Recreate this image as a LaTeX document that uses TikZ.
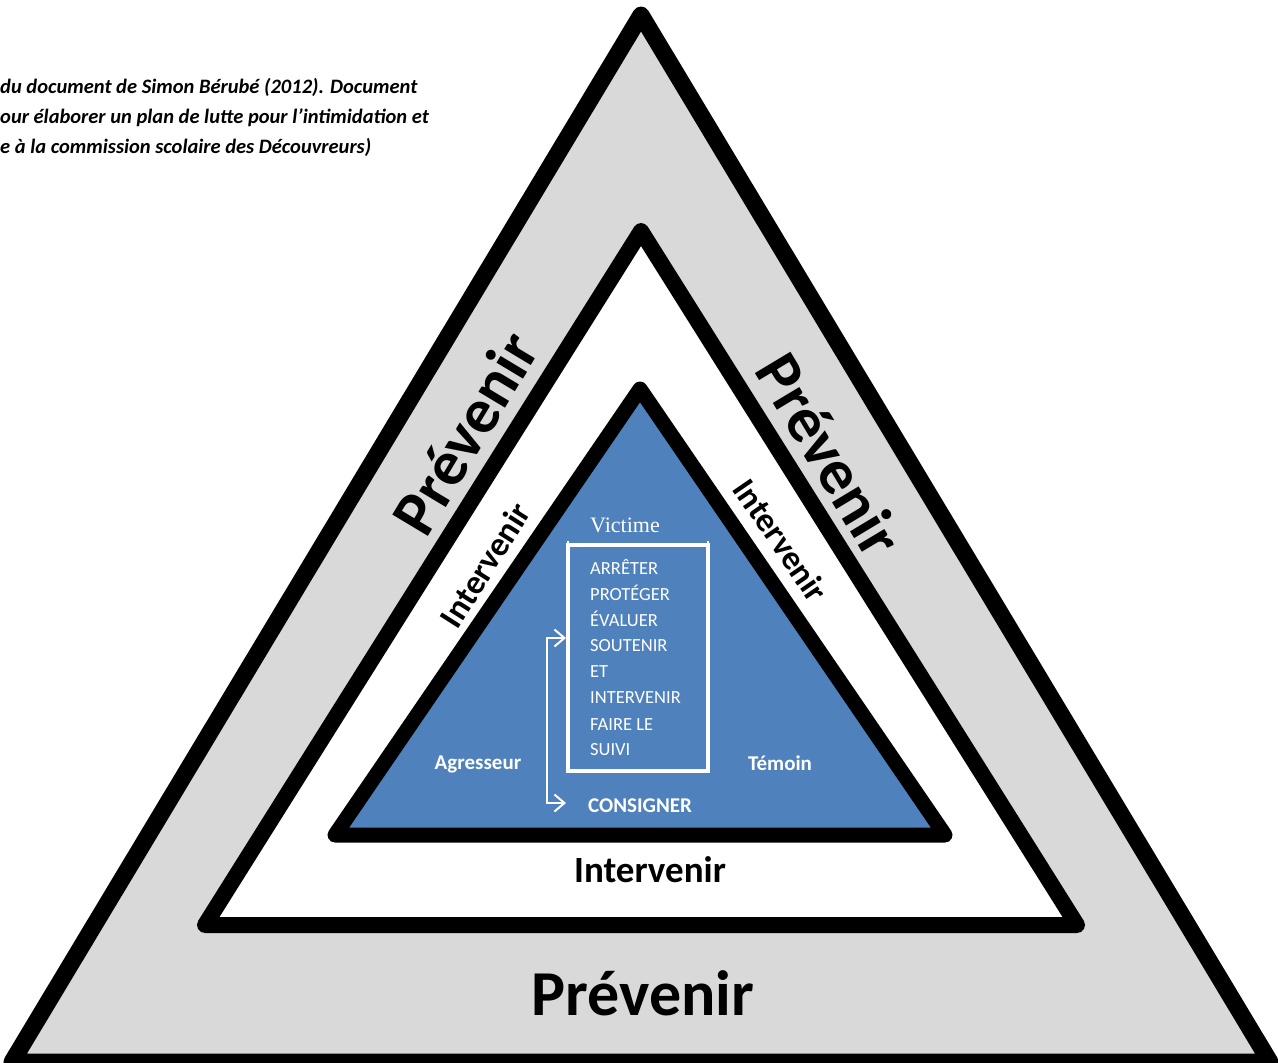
\documentclass[tikz,border=0pt]{standalone}
\usepackage{fontspec}
\setmainfont{Carlito}
\newfontfamily\victfont{Liberation Serif}
\usetikzlibrary{arrows.meta}
\definecolor{bandgray}{HTML}{D9D9D9}
\definecolor{coreblue}{HTML}{4F81BD}
\begin{document}
\begin{tikzpicture}[x=1pt,y=-1pt,
  tri/.style={draw=black,line join=round},
  bigword/.style={font=\fontsize{64}{64}\selectfont\bfseries,inner sep=0pt},
  midword/.style={font=\fontsize{37}{37}\selectfont\bfseries,inner sep=0pt},
  sideword/.style={font=\fontsize{34}{34}\selectfont\bfseries,inner sep=0pt},
  steptext/.style={text=white,anchor=west,font=\fontsize{18.5}{18.5}\selectfont,inner sep=0pt},
  rolelabel/.style={text=white,anchor=base,font=\fontsize{21}{21}\selectfont\bfseries,inner sep=0pt},
  notetext/.style={anchor=base west,font=\fontsize{20.5}{20.5}\selectfont\bfseries\itshape,inner sep=0pt}]
\useasboundingbox (0,0) rectangle (1278,1063);
\clip (0,0) rectangle (1278,1063);
\fill[white] (0,0) rectangle (1278,1063);
% triangles
\draw[tri,line width=17pt,fill=bandgray] (641,15) -- (12,1062) -- (1270,1062) -- cycle;
\draw[tri,line width=16pt,fill=white] (641,231) -- (205,925) -- (1077,925) -- cycle;
\draw[tri,line width=15pt,fill=coreblue] (640,389) -- (335,835) -- (945,835) -- cycle;
% note
\node[notetext] (n1) at (0,93) {du document de Simon Bérubé (2012). Document};
\node[notetext] (n2) at (0,123) {our élaborer un plan de lutte pour l’intimidation et};
\node[notetext] (n3) at (0,153) {e à la commission scolaire des Découvreurs)};
% Prévenir
\node[bigword,rotate=59] (pl) at (465,433) {Prévenir};
\node[bigword,rotate=-59] (pr) at (830,455) {Prévenir};
\node[bigword] (pb) at (643,993) {Prévenir};
% Intervenir
\node[sideword,rotate=57.5] (il) at (485,565) {Intervenir};
\node[sideword,rotate=-55.5] (ir) at (781,540) {Intervenir};
\node[midword] (ib) at (650,870) {Intervenir};
% core
\node[text=white,font=\victfont\fontsize{22}{22}\selectfont,inner sep=0pt] (vict) at (625,525) {Victime};
\draw[white,line width=3.5pt] (568,545) rectangle (708,771);
\draw[white,line width=2.5pt] (568,541) -- (568,547) (708,541) -- (708,547);
\node[steptext] (s1) at (590,567) {ARRÊTER};
\node[steptext] (s2) at (590,593) {PROTÉGER};
\node[steptext] (s3) at (590,619) {ÉVALUER};
\node[steptext] (s4) at (590,646) {SOUTENIR};
\node[steptext] (s5) at (590,672) {ET};
\node[steptext] (s6) at (590,698) {INTERVENIR};
\node[steptext] (s7) at (590,725) {FAIRE LE};
\node[steptext] (s8) at (590,750) {SUIVI};
\node[rolelabel] (agr) at (478,769) {Agresseur};
\node[rolelabel] (tem) at (780,770) {Témoin};
\node[rolelabel] (cons) at (640,812) {CONSIGNER};
\coordinate (a1) at (566,638);
\coordinate (a2) at (566,803);
\draw[white,line width=2pt,{Straight Barb[length=10pt,width=17pt,line width=2pt]}-{Straight Barb[length=10pt,width=17pt,line width=2pt]}]
  (a1) -- (547,638) -- (547,803) -- (a2);
\end{tikzpicture}
\end{document}
